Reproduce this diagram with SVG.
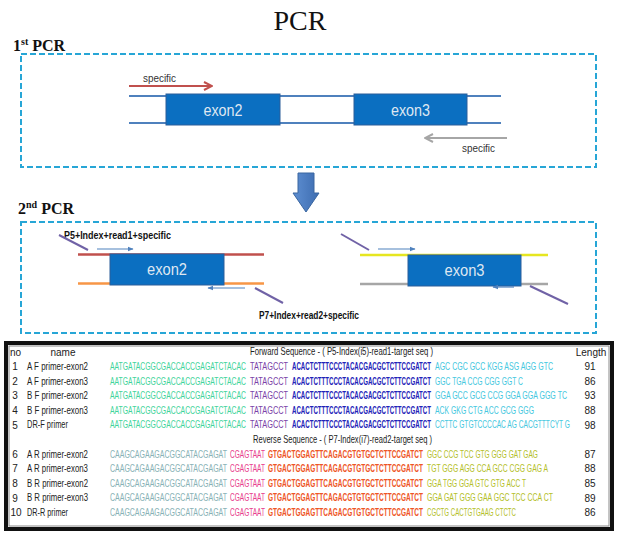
<svg xmlns="http://www.w3.org/2000/svg" width="621" height="535" viewBox="0 0 621 535">
<style>
.serif{font-family:"Liberation Serif","Times New Roman",serif;fill:#111}
.sans{font-family:"Liberation Sans",Arial,sans-serif}
.dash{fill:none;stroke:#27a6d6;stroke-width:2;stroke-dasharray:6 3}
.dna{stroke:#4f81bd;stroke-width:2}
.exon{fill:#0b6fc1;stroke:#2d5f9a;stroke-width:1}
.exlbl{font-family:"Liberation Sans",Arial,sans-serif;font-size:16px;fill:#dfe7f1;text-anchor:middle}
.lbl{font-family:"Liberation Sans",Arial,sans-serif;font-size:10px;font-weight:bold;fill:#111}
.diag{stroke:#7062a6;stroke-width:2}
.sarrow{stroke:#4f81bd;stroke-width:1.2}
.t{font-family:"Liberation Sans",Arial,sans-serif;font-size:10px;fill:#222}
.ga{fill:#3fd49b}.pu{fill:#7b3fa8}.db{fill:#2222b8;font-weight:bold}.cy{fill:#45c8e0}
.gt{fill:#88b2b6}.pk{fill:#e8408c}.or{fill:#ee5526;font-weight:bold}.yg{fill:#b4c02a}
</style>
<defs>
<marker id="hRed" viewBox="0 0 10 10" refX="9" refY="5" markerWidth="5" markerHeight="5" orient="auto" markerUnits="strokeWidth">
<path d="M1,1 L9,5 L1,9" fill="none" stroke="#c0504d" stroke-width="2"/>
</marker>
<marker id="hGray" viewBox="0 0 10 10" refX="9" refY="5" markerWidth="5" markerHeight="5" orient="auto" markerUnits="strokeWidth">
<path d="M1,1 L9,5 L1,9" fill="none" stroke="#a6a6a6" stroke-width="2"/>
</marker>
<marker id="hBlue" viewBox="0 0 10 10" refX="9" refY="5" markerWidth="5" markerHeight="5" orient="auto" markerUnits="strokeWidth">
<path d="M0,1 L10,5 L0,9 Z" fill="#4f81bd"/>
</marker>
<linearGradient id="gArrow" x1="0" y1="0" x2="1" y2="0">
<stop offset="0" stop-color="#5e8fd2"/>
<stop offset="1" stop-color="#3d6cb0"/>
</linearGradient>
</defs>

<text class="serif" x="300" y="30" font-size="28" text-anchor="middle">PCR</text>

<g id="pcr1">
<text class="serif" x="13" y="51" font-size="16" font-weight="bold">1<tspan font-size="10" dy="-6">st</tspan><tspan dy="6"> PCR</tspan></text>
<rect class="dash" x="21" y="54" width="575" height="113"/>
</g>

<g id="pcr1-dna">
<line class="dna" x1="129" y1="96" x2="501" y2="96"/>
<line class="dna" x1="129" y1="123" x2="501" y2="123"/>
</g>
<g id="exon2-1">
<rect class="exon" x="166" y="94" width="114" height="31"/>
<text class="exlbl" x="223" y="115.5" textLength="39" lengthAdjust="spacingAndGlyphs">exon2</text>
</g>
<g id="exon3-1">
<rect class="exon" x="354" y="94" width="113" height="31"/>
<text class="exlbl" x="410.5" y="115.5" textLength="39" lengthAdjust="spacingAndGlyphs">exon3</text>
</g>
<g id="labels-1">
<text class="sans" x="143" y="82" font-size="10" fill="#333" textLength="33" lengthAdjust="spacingAndGlyphs">specific</text>
<text class="sans" x="462" y="152" font-size="10" fill="#333" textLength="33" lengthAdjust="spacingAndGlyphs">specific</text>
</g>

<g id="down-arrow">
<polygon points="298,173 314,173 314,193 319,193 306,212 293,193 298,193" fill="url(#gArrow)" stroke="#3a66a0" stroke-width="1"/>
</g>

<g id="pcr2">
<text class="serif" x="18" y="214" font-size="16" font-weight="bold">2<tspan font-size="10" dy="-6">nd</tspan><tspan dy="6"> PCR</tspan></text>
<rect class="dash" x="21" y="222" width="575" height="111"/>
</g>

<g id="frag-left">
<line x1="78" y1="254.5" x2="264" y2="254.5" stroke="#c0504d" stroke-width="2.5"/>
<line x1="78" y1="283.5" x2="264" y2="283.5" stroke="#f79646" stroke-width="2.5"/>
<rect class="exon" x="110" y="254" width="114" height="31"/>
<text class="exlbl" x="167" y="275" textLength="40" lengthAdjust="spacingAndGlyphs">exon2</text>
</g>
<g id="frag-right">
<line x1="360" y1="255" x2="548" y2="255" stroke="#e6e620" stroke-width="2.5"/>
<line x1="360" y1="284" x2="548" y2="284" stroke="#a6a6a6" stroke-width="2.5"/>
<rect class="exon" x="408" y="255" width="113" height="31"/>
<text class="exlbl" x="464.5" y="276" textLength="40" lengthAdjust="spacingAndGlyphs">exon3</text>
</g>
<g id="labels-2">
<text class="lbl" x="64" y="239" textLength="107" lengthAdjust="spacingAndGlyphs">P5+Index+read1+specific</text>
<text class="lbl" x="259" y="319" textLength="100" lengthAdjust="spacingAndGlyphs">P7+Index+read2+specific</text>
</g>

<g id="connectors">
<line x1="129" y1="86" x2="212" y2="86" stroke="#c0504d" stroke-width="2" marker-end="url(#hRed)"/>
<line x1="507" y1="138" x2="425" y2="138" stroke="#a6a6a6" stroke-width="2" marker-end="url(#hGray)"/>
<line class="diag" x1="59" y1="235" x2="88" y2="250"/>
<line class="sarrow" x1="97" y1="249" x2="133" y2="249" marker-end="url(#hBlue)"/>
<line class="sarrow" x1="245" y1="288" x2="208" y2="288" marker-end="url(#hBlue)"/>
<line class="diag" x1="255" y1="288" x2="283" y2="303"/>
<line class="diag" x1="341" y1="234" x2="369" y2="250"/>
<line class="sarrow" x1="378" y1="249" x2="415" y2="249" marker-end="url(#hBlue)"/>
<line class="sarrow" x1="514" y1="287" x2="493" y2="287" marker-end="url(#hBlue)"/>
<line class="diag" x1="530" y1="286" x2="568" y2="304"/>
</g>

<g id="table">
<rect x="6" y="343" width="606" height="186" fill="#fff" stroke="#111" stroke-width="4"/>
<rect x="9" y="346" width="600" height="180" fill="none" stroke="#888" stroke-width="1"/>
<text class="t" x="10" y="355.5">no</text>
<text class="t" x="63" y="355.5" text-anchor="middle">name</text>
<text class="t" x="591" y="355.5" text-anchor="middle">Length</text>

<g class="t" transform="scale(0.75,1)">
<text x="333.33" y="355.5" textLength="244" lengthAdjust="spacingAndGlyphs">Forward Sequence - ( P5-Index(i5)-read1-target seq )</text>
<text x="337.33" y="443.1" textLength="238.67" lengthAdjust="spacingAndGlyphs">Reverse Sequence - ( P7-Index(i7)-read2-target seq )</text>
<text x="36" y="370.1" textLength="81.33" lengthAdjust="spacingAndGlyphs">A F primer-exon2</text>
<text x="36" y="384.7" textLength="81.33" lengthAdjust="spacingAndGlyphs">A F primer-exon3</text>
<text x="36" y="399.3" textLength="81.33" lengthAdjust="spacingAndGlyphs">B F primer-exon2</text>
<text x="36" y="413.9" textLength="81.33" lengthAdjust="spacingAndGlyphs">B F primer-exon3</text>
<text x="36" y="428.5" textLength="54.67" lengthAdjust="spacingAndGlyphs">DR-F primer</text>
<text x="36" y="457.7" textLength="81.33" lengthAdjust="spacingAndGlyphs">A R primer-exon2</text>
<text x="36" y="472.3" textLength="81.33" lengthAdjust="spacingAndGlyphs">A R primer-exon3</text>
<text x="36" y="486.9" textLength="81.33" lengthAdjust="spacingAndGlyphs">B R primer-exon2</text>
<text x="36" y="501.5" textLength="81.33" lengthAdjust="spacingAndGlyphs">B R primer-exon3</text>
<text x="36" y="516.1" textLength="54.67" lengthAdjust="spacingAndGlyphs">DR-R primer</text>
</g>

<g class="t" text-anchor="middle">
<text x="15" y="370.1">1</text>
<text x="15" y="384.7">2</text>
<text x="15" y="399.3">3</text>
<text x="15" y="413.9">4</text>
<text x="15" y="428.5">5</text>
<text x="15" y="457.7">6</text>
<text x="15" y="472.3">7</text>
<text x="15" y="486.9">8</text>
<text x="15" y="501.5">9</text>
<text x="16" y="516.1">10</text>
</g>

<g class="t" transform="scale(0.6,1)">
<text class="ga" x="183.33" y="370.1" textLength="226.67" lengthAdjust="spacingAndGlyphs">AATGATACGGCGACCACCGAGATCTACAC</text>
<text class="pu" x="416.67" y="370.1" textLength="63.33" lengthAdjust="spacingAndGlyphs">TATAGCCT</text>
<text class="db" x="486.67" y="370.1" textLength="231.67" lengthAdjust="spacingAndGlyphs">ACACTCTTTCCCTACACGACGCTCTTCCGATCT</text>
<text class="cy" x="725" y="370.1" textLength="196.67" lengthAdjust="spacingAndGlyphs">AGC CGC GCC KGG ASG AGG GTC</text>

<text class="ga" x="183.33" y="384.7" textLength="226.67" lengthAdjust="spacingAndGlyphs">AATGATACGGCGACCACCGAGATCTACAC</text>
<text class="pu" x="416.67" y="384.7" textLength="63.33" lengthAdjust="spacingAndGlyphs">TATAGCCT</text>
<text class="db" x="486.67" y="384.7" textLength="231.67" lengthAdjust="spacingAndGlyphs">ACACTCTTTCCCTACACGACGCTCTTCCGATCT</text>
<text class="cy" x="725" y="384.7" textLength="146.67" lengthAdjust="spacingAndGlyphs">GGC TGA CCG CGG GGT C</text>

<text class="ga" x="183.33" y="399.3" textLength="226.67" lengthAdjust="spacingAndGlyphs">AATGATACGGCGACCACCGAGATCTACAC</text>
<text class="pu" x="416.67" y="399.3" textLength="63.33" lengthAdjust="spacingAndGlyphs">TATAGCCT</text>
<text class="db" x="486.67" y="399.3" textLength="231.67" lengthAdjust="spacingAndGlyphs">ACACTCTTTCCCTACACGACGCTCTTCCGATCT</text>
<text class="cy" x="725" y="399.3" textLength="220" lengthAdjust="spacingAndGlyphs">GGA GCC GCG CCG GGA GGA GGG TC</text>

<text class="ga" x="183.33" y="413.9" textLength="226.67" lengthAdjust="spacingAndGlyphs">AATGATACGGCGACCACCGAGATCTACAC</text>
<text class="pu" x="416.67" y="413.9" textLength="63.33" lengthAdjust="spacingAndGlyphs">TATAGCCT</text>
<text class="db" x="486.67" y="413.9" textLength="231.67" lengthAdjust="spacingAndGlyphs">ACACTCTTTCCCTACACGACGCTCTTCCGATCT</text>
<text class="cy" x="725" y="413.9" textLength="165" lengthAdjust="spacingAndGlyphs">ACK GKG CTG ACC GCG GGG</text>

<text class="ga" x="183.33" y="428.5" textLength="226.67" lengthAdjust="spacingAndGlyphs">AATGATACGGCGACCACCGAGATCTACAC</text>
<text class="pu" x="416.67" y="428.5" textLength="63.33" lengthAdjust="spacingAndGlyphs">TATAGCCT</text>
<text class="db" x="486.67" y="428.5" textLength="231.67" lengthAdjust="spacingAndGlyphs">ACACTCTTTCCCTACACGACGCTCTTCCGATCT</text>
<text class="cy" x="725" y="428.5" textLength="225" lengthAdjust="spacingAndGlyphs">CCTTC GTGTCCCCAC AG CACGTTTCYT G</text>

<text class="gt" x="183.33" y="457.7" textLength="195" lengthAdjust="spacingAndGlyphs">CAAGCAGAAGACGGCATACGAGAT</text>
<text class="pk" x="383.33" y="457.7" textLength="58.33" lengthAdjust="spacingAndGlyphs">CGAGTAAT</text>
<text class="or" x="446.67" y="457.7" textLength="258.33" lengthAdjust="spacingAndGlyphs">GTGACTGGAGTTCAGACGTGTGCTCTTCCGATCT</text>
<text class="yg" x="711.67" y="457.7" textLength="185" lengthAdjust="spacingAndGlyphs">GGC CCG TCC GTG GGG GAT GAG</text>

<text class="gt" x="183.33" y="472.3" textLength="195" lengthAdjust="spacingAndGlyphs">CAAGCAGAAGACGGCATACGAGAT</text>
<text class="pk" x="383.33" y="472.3" textLength="58.33" lengthAdjust="spacingAndGlyphs">CGAGTAAT</text>
<text class="or" x="446.67" y="472.3" textLength="258.33" lengthAdjust="spacingAndGlyphs">GTGACTGGAGTTCAGACGTGTGCTCTTCCGATCT</text>
<text class="yg" x="711.67" y="472.3" textLength="201.67" lengthAdjust="spacingAndGlyphs">TGT GGG AGG CCA GCC CGG GAG A</text>

<text class="gt" x="183.33" y="486.9" textLength="195" lengthAdjust="spacingAndGlyphs">CAAGCAGAAGACGGCATACGAGAT</text>
<text class="pk" x="383.33" y="486.9" textLength="58.33" lengthAdjust="spacingAndGlyphs">CGAGTAAT</text>
<text class="or" x="446.67" y="486.9" textLength="258.33" lengthAdjust="spacingAndGlyphs">GTGACTGGAGTTCAGACGTGTGCTCTTCCGATCT</text>
<text class="yg" x="711.67" y="486.9" textLength="165" lengthAdjust="spacingAndGlyphs">GGA TGG GGA GTC GTG ACC T</text>

<text class="gt" x="183.33" y="501.5" textLength="195" lengthAdjust="spacingAndGlyphs">CAAGCAGAAGACGGCATACGAGAT</text>
<text class="pk" x="383.33" y="501.5" textLength="58.33" lengthAdjust="spacingAndGlyphs">CGAGTAAT</text>
<text class="or" x="446.67" y="501.5" textLength="258.33" lengthAdjust="spacingAndGlyphs">GTGACTGGAGTTCAGACGTGTGCTCTTCCGATCT</text>
<text class="yg" x="711.67" y="501.5" textLength="210" lengthAdjust="spacingAndGlyphs">GGA GAT GGG GAA GGC TCC CCA CT</text>

<text class="gt" x="183.33" y="516.1" textLength="195" lengthAdjust="spacingAndGlyphs">CAAGCAGAAGACGGCATACGAGAT</text>
<text class="pk" x="383.33" y="516.1" textLength="58.33" lengthAdjust="spacingAndGlyphs">CGAGTAAT</text>
<text class="or" x="446.67" y="516.1" textLength="258.33" lengthAdjust="spacingAndGlyphs">GTGACTGGAGTTCAGACGTGTGCTCTTCCGATCT</text>
<text class="yg" x="711.67" y="516.1" textLength="148.33" lengthAdjust="spacingAndGlyphs">CGCTG CACTGTGAAG CTCTC</text>
</g>

<g class="t" text-anchor="middle">
<text x="590" y="370.1">91</text>
<text x="590" y="384.7">86</text>
<text x="590" y="399.3">93</text>
<text x="590" y="413.9">88</text>
<text x="590" y="428.5">98</text>
<text x="590" y="457.7">87</text>
<text x="590" y="472.3">88</text>
<text x="590" y="486.9">85</text>
<text x="590" y="501.5">89</text>
<text x="590" y="516.1">86</text>
</g>
</g>
</svg>
